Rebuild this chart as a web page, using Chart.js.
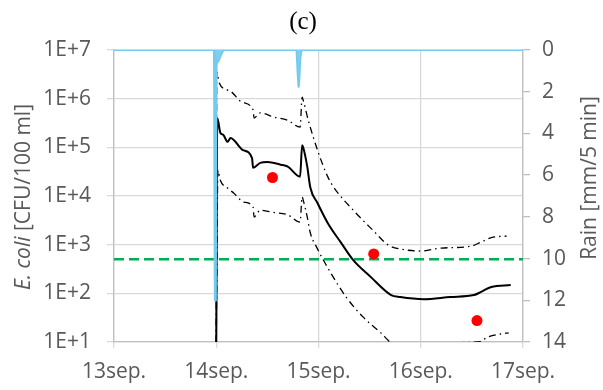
<!DOCTYPE html>
<html>
<head>
<meta charset="utf-8">
<script src="https://cdn.jsdelivr.net/npm/chart.js@4.4.1/dist/chart.umd.min.js"></script>
<style>
html,body{margin:0;padding:0;background:#fff;}
#wrap{width:603px;height:390px;position:relative;}
</style>
</head>
<body>
<div id="wrap"><canvas id="c" width="603" height="390"></canvas></div>
<script>
// ---- data ----
const chartTitle = '(c)';
const xTickValues = [13, 14, 15, 16, 17];
const xTickLabels = ['13sep.', '14sep.', '15sep.', '16sep.', '17sep.'];
const yTickValues = [1e1, 1e2, 1e3, 1e4, 1e5, 1e6, 1e7];
const yTickLabels = ['1E+1', '1E+2', '1E+3', '1E+4', '1E+5', '1E+6', '1E+7'];
const rainTickValues = [0, 2, 4, 6, 8, 10, 12, 14];
const leftTitleItalic = 'E. coli';
const leftTitleRest = ' [CFU/100 ml]';
const rightTitle = 'Rain [mm/5 min]';

const medianT = [14.00,14.01,14.04,14.07,14.11,14.14,14.26,14.35,14.36,14.43,14.50,14.63,14.70,14.82,14.84,14.85,14.89,14.92,14.99,15.09,15.22,15.34,15.51,15.71,15.80,16.03,16.29,16.52,16.59,16.69,16.88];
const medianV = [10,4.0e5,2.0e5,1.8e5,1.3e5,1.55e5,8.8e4,6.0e4,3.8e4,4.8e4,5.0e4,4.4e4,4.0e4,2.5e4,1.1e5,1.0e5,4.0e4,1.5e4,7.2e3,2.8e3,1.1e3,480,218,92,84,76,84,92,107,135,148];

const upperT = [14.00,14.005,14.03,14.11,14.15,14.25,14.36,14.37,14.43,14.56,14.70,14.82,14.84,14.85,14.90,14.99,15.09,15.15,15.34,15.53,15.68,15.80,16.00,16.20,16.49,16.59,16.69,16.84];
const upperV = [10,3.5e6,2.1e6,1.5e6,1.37e6,8.5e5,5.9e5,4.0e5,5.1e5,4.2e5,3.6e5,2.6e5,1.07e6,9.4e5,3.6e5,8.8e4,2.5e4,1.5e4,5.1e3,2.0e3,990,815,740,850,930,1130,1400,1500];

const lowerT = [14.00,14.017,14.04,14.11,14.17,14.27,14.36,14.37,14.43,14.56,14.70,14.82,14.84,14.85,14.89,14.92,14.98,15.12,15.27,15.44,15.61,15.71,16.00,16.35,16.39,16.56,16.66,16.78,16.86];
const lowerV = [10,3.4e4,2.1e4,1.46e4,1.15e4,7.5e3,5.9e3,3.7e3,5.1e3,4.6e3,4.1e3,2.9e3,9.6e3,8.3e3,3.7e3,1.74e3,900,263,84,32,15.4,9.6,5,8,9.6,10,12.7,14.6,15.4];

const sampleT = [14.55, 15.54, 16.55];
const sampleV = [2.4e4, 645, 27.5];

const thresholdT = [13, 17];
const thresholdV = [500, 500];

const rainT = [13.0,13.978,13.986,13.996,14.003,14.01,14.025,14.045,14.07,14.785,14.797,14.805,14.812,14.822,14.835,17.0];
const rainV = [0,0,12,12,0.5,0.6,0.5,0.25,0,0,1.2,1.8,1.5,0.4,0,0];

// ---- build ----
const pts = (t, v) => t.map((x, i) => ({x: x, y: v[i]}));
const FONT = '"Open Sans", sans-serif';
const GRAY = '#595959';
const GRID = '#d9d9d9';

const titlesPlugin = {
  id: 'titles',
  afterDraw(chart) {
    const ctx = chart.ctx;
    ctx.save();
    ctx.fillStyle = '#000';
    ctx.font = '25px "Liberation Serif", serif';
    ctx.textAlign = 'center';
    ctx.textBaseline = 'middle';
    ctx.fillText(chartTitle, 303, 22);
    ctx.restore();

    ctx.save();
    ctx.fillStyle = GRAY;
    ctx.translate(24, 197);
    ctx.rotate(-Math.PI / 2);
    ctx.textBaseline = 'middle';
    ctx.textAlign = 'left';
    const fi = 'italic 21px ' + FONT, fn = '21px ' + FONT;
    ctx.font = fi; const w1 = ctx.measureText(leftTitleItalic).width;
    ctx.font = fn; const w2 = ctx.measureText(leftTitleRest).width;
    const x0 = -(w1 + w2) / 2;
    ctx.font = fi; ctx.fillText(leftTitleItalic, x0, 0);
    ctx.font = fn; ctx.fillText(leftTitleRest, x0 + w1, 0);
    ctx.restore();

    ctx.save();
    ctx.fillStyle = GRAY;
    ctx.translate(590, 178);
    ctx.rotate(-Math.PI / 2);
    ctx.textBaseline = 'middle';
    ctx.textAlign = 'center';
    ctx.font = '21px ' + FONT;
    ctx.fillText(rightTitle, 0, 0);
    ctx.restore();
  }
};

new Chart(document.getElementById('c'), {
  type: 'line',
  data: {
    datasets: [
      { label: 'rain', data: pts(rainT, rainV), yAxisID: 'y1', borderColor: '#74cbee', backgroundColor: '#7fd0f0',
        borderWidth: 2, pointRadius: 0, fill: 'origin', tension: 0, order: 0 },
      { label: 'samples', data: pts(sampleT, sampleV), yAxisID: 'y', showLine: false, pointRadius: 5.5,
        pointBackgroundColor: '#ff0000', pointBorderColor: '#ff0000', pointBorderWidth: 0, order: 1 },
      { label: 'median', data: pts(medianT, medianV), yAxisID: 'y', borderColor: '#000', borderWidth: 2,
        pointRadius: 0, fill: false, cubicInterpolationMode: 'monotone', order: 2 },
      { label: 'upper', data: pts(upperT, upperV), yAxisID: 'y', borderColor: '#000', borderWidth: 1.3,
        borderDash: [7, 4, 1.5, 4], pointRadius: 0, fill: false, cubicInterpolationMode: 'monotone', order: 3 },
      { label: 'lower', data: pts(lowerT, lowerV), yAxisID: 'y', borderColor: '#000', borderWidth: 1.3,
        borderDash: [7, 4, 1.5, 4], pointRadius: 0, fill: false, cubicInterpolationMode: 'monotone', order: 4 },
      { label: 'threshold', data: pts(thresholdT, thresholdV), yAxisID: 'y', borderColor: '#00b050', borderWidth: 2.5,
        borderDash: [10, 5], pointRadius: 0, fill: false, order: 5 }
    ]
  },
  options: {
    responsive: false,
    animation: false,
    events: [],
    layout: { padding: { top: 50, left: 0, right: 0, bottom: 0 } },
    plugins: { legend: { display: false }, title: { display: false }, tooltip: { enabled: false } },
    scales: {
      x: {
        type: 'linear', min: 13, max: 17,
        afterBuildTicks: s => { s.ticks = xTickValues.map(v => ({value: v})); },
        afterFit: s => { s.height = 48; },
        ticks: { font: { family: FONT, size: 21 }, color: GRAY, padding: 11, maxRotation: 0,
                 callback: (v) => xTickLabels[xTickValues.indexOf(v)] },
        grid: { color: GRID, lineWidth: 1.3, tickLength: 6 },
        border: { color: '#bfbfbf', width: 1.3 }
      },
      y: {
        type: 'logarithmic', position: 'left', min: 10, max: 1e7,
        afterBuildTicks: s => { s.ticks = yTickValues.map(v => ({value: v})); },
        afterFit: s => { s.width = 114; },
        ticks: { font: { family: FONT, size: 21 }, color: GRAY, padding: 16,
                 callback: (v) => yTickLabels[yTickValues.indexOf(v)] },
        grid: { color: GRID, lineWidth: 1.3, tickLength: 7 },
        border: { color: '#bfbfbf', width: 1.3 }
      },
      y1: {
        type: 'linear', position: 'right', min: 0, max: 14, reverse: true,
        afterBuildTicks: s => { s.ticks = rainTickValues.map(v => ({value: v})); },
        afterFit: s => { s.width = 80; },
        ticks: { font: { family: FONT, size: 21 }, color: GRAY, padding: 12 },
        grid: { drawOnChartArea: false, color: '#bfbfbf', lineWidth: 1.3, tickLength: 7 },
        border: { color: '#bfbfbf', width: 1.3 }
      }
    }
  },
  plugins: [titlesPlugin]
});
</script>
</body>
</html>
